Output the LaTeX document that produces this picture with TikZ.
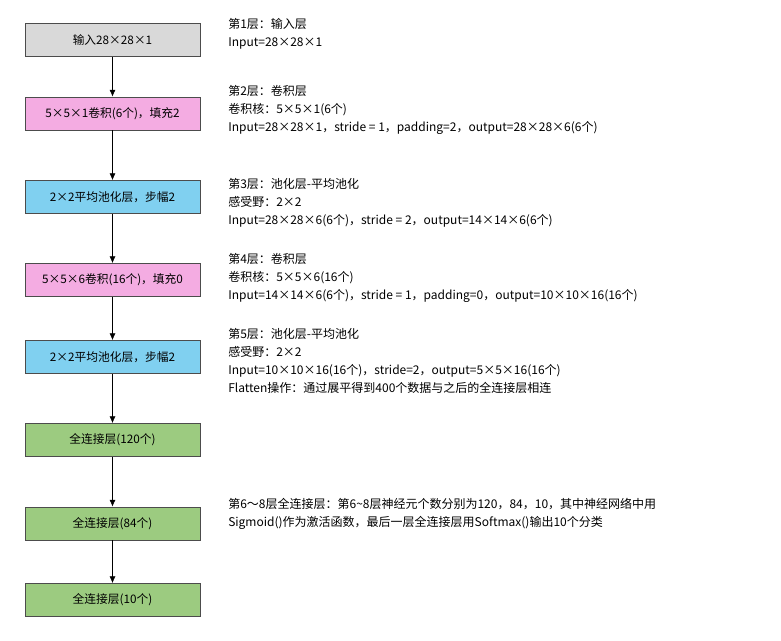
\documentclass[tikz,border=0pt]{standalone}
\usepackage{fontspec}
\setmainfont{Noto Sans CJK SC}
\usetikzlibrary{positioning,arrows.meta}
\definecolor{grayfill}{HTML}{D9D9D9}
\definecolor{pinkfill}{HTML}{F4ACE2}
\definecolor{bluefill}{HTML}{80D0F0}
\definecolor{greenfill}{HTML}{9CCB80}
\tikzset{
  layer/.style={draw=black!70, minimum width=131.25pt, minimum height=25pt, inner sep=0pt, font=\fontsize{8.8}{10}\selectfont},
  note/.style={anchor=north west, align=left, inner sep=0pt, font=\fontsize{9}{13.5}\selectfont},
  link/.style={-{Latex[length=5pt,width=4.5pt]}, black}
}
\begin{document}
\begin{tikzpicture}[x=0.75pt,y=-0.75pt]
\useasboundingbox (0,0) rectangle (781,640);
% Netzschichten
\node[layer, fill=grayfill] (in) at (112.5,40) {输入28×28×1};
\node[layer, fill=pinkfill] (c1) at (112.5,113.5) {5×5×1卷积(6个)，填充2};
\node[layer, fill=bluefill] (p1) at (112.5,197) {2×2平均池化层，步幅2};
\node[layer, fill=pinkfill] (c2) at (112.5,280) {5×5×6卷积(16个)，填充0};
\node[layer, fill=bluefill] (p2) at (112.5,357) {2×2平均池化层，步幅2};
\node[layer, fill=greenfill] (f1) at (112.5,440) {全连接层(120个)};
\node[layer, fill=greenfill] (f2) at (112.5,523.5) {全连接层(84个)};
\node[layer, fill=greenfill] (f3) at (112.5,600) {全连接层(10个)};

% Verbindungen
\foreach \a/\b in {in/c1,c1/p1,p1/c2,c2/p2,p2/f1,f1/f2,f2/f3} {
  \draw[link] (\a) -- (\b);
}

% Beschreibungen
\node[note] (t1) at (228,18) {第1层：输入层\\Input=28×28×1};
\node[note] (t2) at (228,85) {第2层：卷积层\\卷积核：5×5×1(6个)\\Input=28×28×1，stride = 1，padding=2，output=28×28×6(6个)};
\node[note] (t3) at (228,178) {第3层：池化层-平均池化\\感受野：2×2\\Input=28×28×6(6个)，stride = 2，output=14×14×6(6个)};
\node[note] (t4) at (228,253) {第4层：卷积层\\卷积核：5×5×6(16个)\\Input=14×14×6(6个)，stride = 1，padding=0，output=10×10×16(16个)};
\node[note] (t5) at (228,328) {第5层：池化层-平均池化\\感受野：2×2\\Input=10×10×16(16个)，stride=2，output=5×5×16(16个)\\Flatten操作：通过展平得到400个数据与之后的全连接层相连};
\node[note] (t6) at (228,498) {第6～8层全连接层：第6\textasciitilde 8层神经元个数分别为120，84，10，其中神经网络中用\\Sigmoid()作为激活函数，最后一层全连接层用Softmax()输出10个分类};
\end{tikzpicture}
\end{document}
